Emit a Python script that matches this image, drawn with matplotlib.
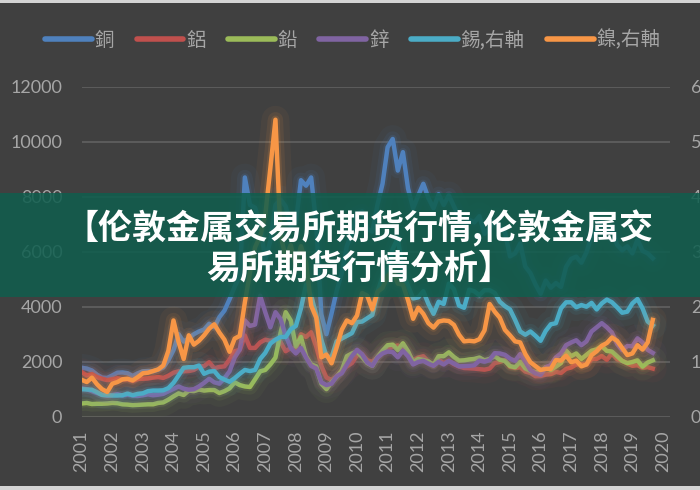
import numpy as np
import matplotlib
matplotlib.use("Agg")
import matplotlib.pyplot as plt
from matplotlib.lines import Line2D
from matplotlib.patches import Rectangle
from matplotlib.font_manager import FontProperties

# bimonthly LME prices (USD/t), Jan 2001 .. Sep 2019
copper = [
    1780, 1750, 1680, 1530, 1420, 1410,
    1500, 1600, 1610, 1580, 1480, 1580,
    1650, 1660, 1650, 1710, 1790, 2050,
    2420, 3000, 2730, 2850, 3000, 3100,
    3170, 3380, 3250, 3620, 3860, 4270,
    4730, 5100, 8700, 7700, 7600, 7000,
    5700, 6400, 7700, 7900, 7650, 6950,
    7060, 8600, 8400, 8700, 6990, 3720,
    3000, 3750, 4570, 5220, 6200, 6680,
    7380, 7460, 6840, 6730, 7700, 8470,
    9800, 10100, 8950, 9620, 8300, 7580,
    8040, 8470, 7950, 7580, 8090, 7700,
    8050, 7650, 7250, 6910, 7160, 7070,
    7290, 6650, 6890, 7110, 6870, 6710,
    5830, 5940, 6300, 5460, 5220, 4810,
    4470, 4950, 4690, 4860, 4720, 5450,
    5740, 5820, 5600, 5980, 6580, 6820,
    7070, 6800, 6830, 6250, 6050, 6200,
    5940, 6440, 6030, 5940, 5760]

aluminium = [
    1620, 1500, 1550, 1440, 1380, 1330,
    1360, 1400, 1350, 1360, 1300, 1370,
    1380, 1390, 1420, 1440, 1410, 1490,
    1600, 1650, 1650, 1660, 1700, 1820,
    1840, 1980, 1760, 1810, 1830, 2080,
    2380, 2430, 2950, 2500, 2500, 2700,
    2800, 2760, 2800, 2720, 2380, 2500,
    2440, 3000, 2900, 3070, 2550, 1850,
    1420, 1340, 1460, 1680, 1830, 1950,
    2230, 2270, 2050, 2000, 2160, 2340,
    2440, 2550, 2590, 2500, 2290, 2050,
    2150, 2200, 2000, 1880, 2070, 1950,
    2040, 1910, 1830, 1770, 1760, 1750,
    1730, 1710, 1750, 1950, 1990, 2060,
    1810, 1770, 1800, 1640, 1590, 1470,
    1480, 1530, 1550, 1630, 1590, 1740,
    1790, 1900, 1910, 1900, 2100, 2100,
    2210, 2070, 2300, 2090, 2030, 1940,
    1850, 1870, 1780, 1800, 1750]

lead = [
    480, 500, 460, 470, 470, 480,
    500, 490, 450, 440, 420, 430,
    440, 450, 450, 500, 520, 620,
    740, 850, 790, 950, 930, 990,
    950, 970, 970, 860, 930, 1030,
    1250, 1150, 1100, 1080, 1360, 1650,
    1700, 1900, 2150, 3050, 3800, 3500,
    2550, 2900, 2200, 1900, 1830, 1200,
    1000, 1250, 1450, 1680, 2200, 2300,
    2370, 2170, 1950, 1850, 2170, 2400,
    2600, 2620, 2420, 2670, 2380, 1980,
    2100, 2060, 2010, 1880, 2200, 2200,
    2340, 2170, 2040, 2050, 2080, 2100,
    2150, 2050, 2100, 2200, 2070, 2030,
    1840, 1800, 2000, 1760, 1670, 1620,
    1640, 1800, 1700, 1820, 1950, 2400,
    2200, 2300, 2100, 2250, 2400, 2450,
    2570, 2390, 2370, 2200, 2030, 1950,
    1990, 2050, 1820, 1970, 2050]

zinc = [
    1030, 1000, 930, 860, 800, 760,
    790, 820, 770, 800, 770, 750,
    780, 810, 780, 800, 830, 920,
    1010, 1100, 1020, 980, 1000, 1100,
    1230, 1380, 1250, 1200, 1400, 1650,
    2150, 2440, 3500, 3300, 3350, 4400,
    3800, 3250, 3800, 3550, 2950, 2500,
    2300, 2500, 2150, 1850, 1750, 1250,
    1150, 1200, 1470, 1580, 1900, 2200,
    2430, 2270, 1970, 1850, 2150, 2300,
    2370, 2350, 2160, 2400, 2200, 1900,
    1990, 2030, 1930, 1850, 2000, 1900,
    2030, 1930, 1830, 1840, 1850, 1870,
    2040, 2000, 2060, 2310, 2300, 2250,
    2110, 2030, 2280, 2000, 1700, 1580,
    1520, 1800, 1880, 2160, 2300, 2600,
    2700, 2780, 2600, 2740, 3100, 3250,
    3400, 3250, 3060, 2650, 2420, 2570,
    2560, 2850, 2700, 2430, 2320]

# right axis
tin = [
    5000, 4950, 4900, 4450, 3950, 3900,
    3850, 3850, 3900, 4200, 3900, 4150,
    4250, 4650, 4750, 4750, 4800, 5200,
    6150, 7500, 8900, 9000, 9000, 9300,
    7800, 8200, 8300, 7200, 6750, 6350,
    7000, 7800, 8500, 8300, 8500, 10500,
    11600, 13300, 14000, 14500, 14500, 15900,
    16500, 19700, 24000, 22000, 18500, 14000,
    11000, 10800, 13700, 14200, 14700, 15200,
    17200, 17300, 17900, 18500, 22600, 25500,
    26500, 30500, 32500, 26000, 23800, 21500,
    21700, 22800, 20500, 18700, 20900, 20500,
    24200, 23200, 20200, 19800, 23100, 22800,
    22100, 23000, 23000, 22500, 20900, 20100,
    19500, 17600, 15500, 14900, 15500, 14700,
    13800, 15600, 16800, 17000, 19700, 20800,
    20800, 19900, 20300, 20000, 20700, 19500,
    20600, 21300, 20800, 19900, 18900, 19100,
    20600, 21400, 19700, 17300, 16600]

nickel = [
    6700, 6300, 7100, 5900, 5000, 4500,
    6000, 6300, 6800, 6900, 6600, 7200,
    7900, 8000, 8300, 8600, 9300, 12000,
    17500, 13600, 10500, 14800, 13100, 13800,
    14800, 16000, 16800, 15300, 14000, 11800,
    14200, 14700, 20800, 26200, 30800, 32800,
    36600, 45200, 54000, 33000, 29000, 31200,
    27400, 31000, 28000, 20200, 18000, 10800,
    11300, 9700, 12600, 15800, 17500, 17000,
    18400, 22500, 22000, 19500, 22700, 23400,
    25600, 26600, 24200, 24000, 21200, 17800,
    19800, 18700, 17000, 16200, 17300, 17500,
    17400, 16700, 14900, 13700, 13800, 13700,
    14100, 15700, 20500, 19100, 18000, 15800,
    14800, 13700, 13500, 11400, 9900, 9200,
    8500, 8700, 8700, 10300, 10200, 11100,
    9900, 10200, 9150, 9500, 11200, 11900,
    12900, 13400, 14400, 13800, 12500, 11200,
    11500, 13000, 12200, 13500, 17600]

labels = ["銅", "鋁", "鉛", "鋅", "錫,右軸", "鎳,右軸"]
colors = ["#4F81BD", "#C0504D", "#9BBB59", "#8064A2", "#4BACC6", "#F79646"]
years = list(range(2001, 2021))
title_1 = "【伦敦金属交易所期货行情,伦敦金属交"
title_2 = "易所期货行情分析】"

t = 2001 + np.arange(len(copper)) / 6.0

bg = "#404040"
txt = "#a6a6a6"
W, H = 700, 490

fig = plt.figure(figsize=(7, 4.9), dpi=100, facecolor=bg)
ax = fig.add_axes([81.7 / W, 1 - 416.7 / H, (670 - 81.7) / W, 330 / H])
ax.set_facecolor(bg)
ax2 = ax.twinx()


def glow_line(a, x, y, c):
    # soft halo like the Excel "glow" effect, then the line itself
    a.plot(x, y, color=c, lw=20, alpha=0.05, solid_capstyle="round")
    a.plot(x, y, color=c, lw=11, alpha=0.09, solid_capstyle="round")
    a.plot(x, y, color=c, lw=6, alpha=0.15, solid_capstyle="round")
    a.plot(x, y, color=c, lw=3.2, solid_joinstyle="round")


for vals, c in zip([copper, aluminium, lead, zinc], colors[:4]):
    glow_line(ax, t, vals, c)
for vals, c in zip([tin, nickel], colors[4:]):
    glow_line(ax2, t, vals, c)

ax.set_xlim(2001, 2020.23)
ax.set_ylim(0, 12000)
ax2.set_ylim(0, 60000)
ax.set_yticks(range(0, 12001, 2000))
ax2.set_yticks(range(0, 60001, 10000))
ax.set_xticks(years)
ax.set_xticklabels([str(y) for y in years], rotation=90)

for a in (ax, ax2):
    for s in a.spines.values():
        s.set_visible(False)
    a.tick_params(length=0, colors=txt, labelsize=13)
    for lab in a.get_xticklabels() + a.get_yticklabels():
        lab.set_family(["Lato", "DejaVu Sans"])
ax.tick_params(axis="y", pad=14)
ax2.tick_params(axis="y", pad=15)
ax.tick_params(axis="x", pad=10)
ax.yaxis.grid(True, color="#5e5e5e", lw=1.3)
ax.set_axisbelow(True)

handles = [Line2D([], [], color=c, lw=4, solid_capstyle="round") for c in colors]
leg_font = FontProperties(family=["Noto Sans CJK TC", "DejaVu Sans"], size=14)
fig.legend(handles, labels, loc="center", bbox_to_anchor=(0.504, 1 - 40 / H),
           ncol=6, frameon=False, prop=leg_font, labelcolor=txt,
           handlelength=2.4, handletextpad=0.15, columnspacing=1.15)

# banner over the chart
fig.add_artist(Rectangle((0, 1 - 297 / H), 1, 104 / H, transform=fig.transFigure,
                         color="#0f5e4e", alpha=0.86, zorder=10, lw=0))
title_font = ["Noto Sans CJK SC", "DejaVu Sans"]
fig.text(0.513, 1 - 228 / H, title_1, ha="center", va="center", fontsize=24.5,
         fontweight="bold", color="white", family=title_font, zorder=11)
fig.text(0.513, 1 - 268 / H, title_2, ha="center", va="center", fontsize=24.5,
         fontweight="bold", color="white", family=title_font, zorder=11)

# thin light strips on top and bottom edge
fig.add_artist(Rectangle((0, 1 - 3 / H), 1, 3 / H, transform=fig.transFigure,
                         color="#d4d4d4", zorder=12, lw=0))
fig.add_artist(Rectangle((0, 0), 1, 4 / H, transform=fig.transFigure,
                         color="#d4d4d4", zorder=12, lw=0))

fig.savefig("out.png", dpi=100, facecolor=bg)
